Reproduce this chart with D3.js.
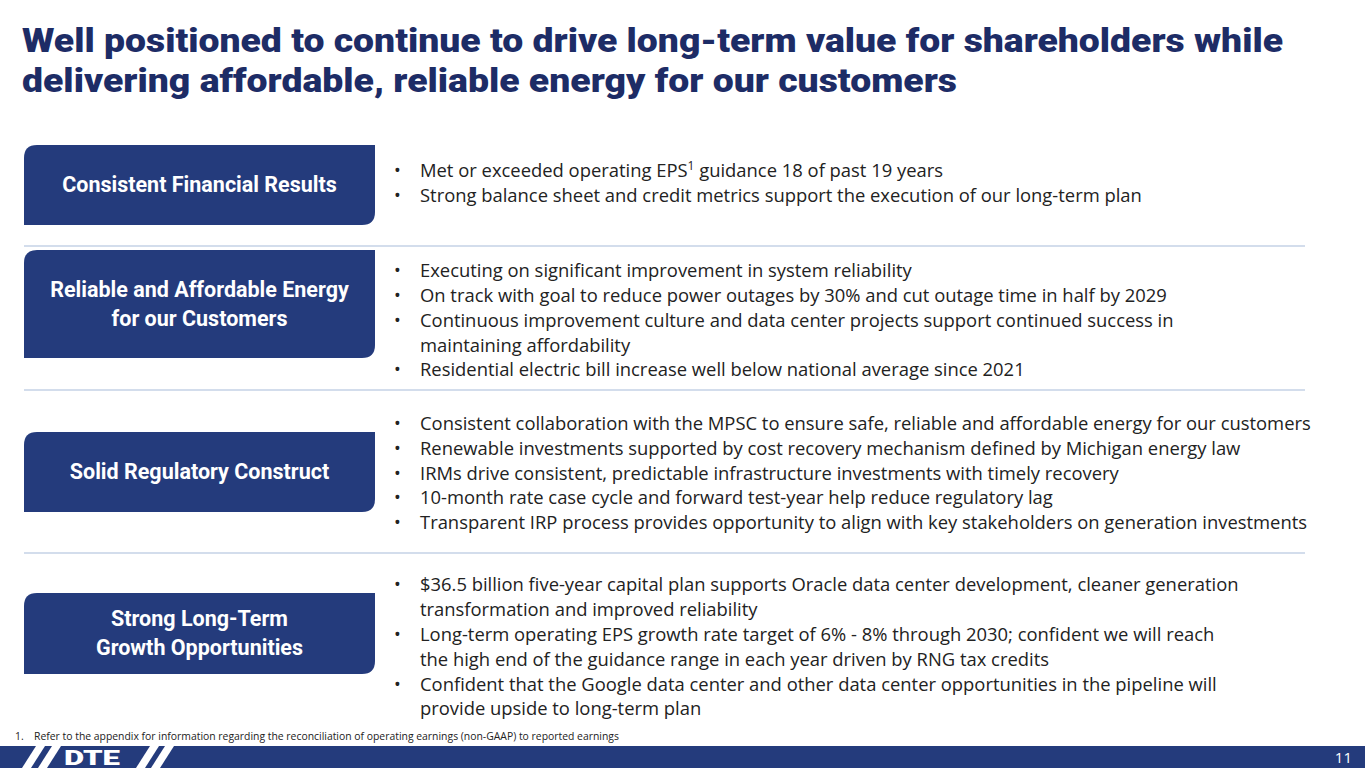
<!DOCTYPE html>
<html><head><meta charset="utf-8">
<script src="https://cdn.jsdelivr.net/npm/d3@7"></script>
<style>body{margin:0;background:#fff}svg{display:block}</style>
</head><body>
<svg id="canvas" width="1365" height="768"></svg>
<script>
// contenido de la diapositiva
let titleLines = ['Well positioned to continue to drive long-term value for shareholders while',
                  'delivering affordable, reliable energy for our customers'];
let labels = [['Consistent Financial Results'], ['Reliable and Affordable Energy', 'for our Customers'],
              ['Solid Regulatory Construct'], ['Strong Long-Term', 'Growth Opportunities']];
let boxTops = [145, 250, 432, 593];
let boxHeights = [80, 108, 80, 81];
let dividers = [246, 390, 553];
// cada linea: [texto, es bullet, y]
let bullets = [
  [['Met or exceeded operating EPS|1| guidance 18 of past 19 years', 1, 171],
   ['Strong balance sheet and credit metrics support the execution of our long-term plan', 1, 196]],
  [['Executing on significant improvement in system reliability', 1, 271],
   ['On track with goal to reduce power outages by 30% and cut outage time in half by 2029', 1, 296],
   ['Continuous improvement culture and data center projects support continued success in', 1, 321],
   ['maintaining affordability', 0, 346],
   ['Residential electric bill increase well below national average since 2021', 1, 370]],
  [['Consistent collaboration with the MPSC to ensure safe, reliable and affordable energy for our customers', 1, 424],
   ['Renewable investments supported by cost recovery mechanism defined by Michigan energy law', 1, 449],
   ['IRMs drive consistent, predictable infrastructure investments with timely recovery', 1, 474],
   ['10-month rate case cycle and forward test-year help reduce regulatory lag', 1, 498],
   ['Transparent IRP process provides opportunity to align with key stakeholders on generation investments', 1, 523]],
  [['$36.5 billion five-year capital plan supports Oracle data center development, cleaner generation', 1, 585],
   ['transformation and improved reliability', 0, 610],
   ['Long-term operating EPS growth rate target of 6% - 8% through 2030; confident we will reach', 1, 635],
   ['the high end of the guidance range in each year driven by RNG tax credits', 0, 660],
   ['Confident that the Google data center and other data center opportunities in the pipeline will', 1, 685],
   ['provide upside to long-term plan', 0, 709]]
];
let footnoteNum = '1.';
let footnote = 'Refer to the appendix for information regarding the reconciliation of operating earnings (non-GAAP) to reported earnings';
let pageNum = '11';

let navy = '#243b7c';
let canvas = d3.select('#canvas');

// titulo
canvas.selectAll('text.title').data(titleLines).enter().append('text')
  .attr('class', 'title').attr('x', 22).attr('y', (d, i) => 52 + i * 40)
  .attr('font-family', 'Roboto').attr('font-weight', 900).attr('font-size', 33)
  .attr('fill', '#1d2c66').attr('textLength', (d, i) => i ? 935 : 1261)
  .attr('lengthAdjust', 'spacingAndGlyphs').text(d => d);

// lineas divisorias
canvas.selectAll('line.div').data(dividers).enter().append('line')
  .attr('x1', 24).attr('x2', 1305).attr('y1', d => d).attr('y2', d => d)
  .attr('stroke', '#a8bbda').attr('stroke-width', 1.2);

// cajas con esquinas redondeadas (arriba-izq y abajo-der)
let boxPath = (y, h) => {
  let x0 = 24, x1 = 375, r = 13;
  return `M${x0},${y + r} Q${x0},${y} ${x0 + r},${y} L${x1},${y} L${x1},${y + h - r} Q${x1},${y + h} ${x1 - r},${y + h} L${x0},${y + h} Z`;
};
let boxes = canvas.selectAll('g.box').data(labels).enter().append('g').attr('class', 'box');
boxes.append('path').attr('d', (d, i) => boxPath(boxTops[i], boxHeights[i])).attr('fill', navy);
boxes.each(function (d, i) {
  let cy = boxTops[i] + boxHeights[i] / 2;
  d3.select(this).selectAll('text').data(d).enter().append('text')
    .attr('x', 199.5).attr('y', (t, j) => cy + 7 + (j - (d.length - 1) / 2) * 29)
    .attr('text-anchor', 'middle').attr('fill', '#fff')
    .attr('font-family', 'Roboto').attr('font-weight', 700).attr('font-size', 21.5)
    .text(t => t);
});

// bullets
let allLines = bullets.flat();
let lines = canvas.selectAll('g.line').data(allLines).enter().append('g').attr('class', 'line');
lines.filter(d => d[1]).append('text').attr('x', 394).attr('y', d => d[2] + 6)
  .attr('font-family', 'Open Sans').attr('font-size', 18).attr('fill', '#222').text('•');
lines.append('text').attr('x', 420).attr('y', d => d[2] + 6)
  .attr('font-family', 'Open Sans').attr('font-size', 18.4).attr('fill', '#222')
  .each(function (d) {
    let parts = d[0].split('|');
    let t = d3.select(this);
    parts.forEach((p, k) => {
      let s = t.append('tspan').text(p);
      if (k === 1) s.attr('font-size', 12).attr('dy', -7);
      if (k === 2) s.attr('dy', 7);
    });
  });

// nota al pie
canvas.append('text').attr('x', 15).attr('y', 740).attr('font-family', 'Open Sans')
  .attr('font-size', 10.4).attr('fill', '#222').text(footnoteNum);
canvas.append('text').attr('x', 34).attr('y', 740).attr('font-family', 'Open Sans')
  .attr('font-size', 10.4).attr('fill', '#222').text(footnote);

// barra inferior
canvas.append('rect').attr('x', 0).attr('y', 746).attr('width', 1365).attr('height', 22).attr('fill', navy);
let slash = x => `M${x},768 L${x + 9},768 L${x + 23},746 L${x + 14},746 Z`;
[22, 38, 136, 151].forEach(x =>
  canvas.append('path').attr('d', slash(x)).attr('fill', '#fff'));
canvas.append('text').attr('x', 92).attr('y', 765).attr('text-anchor', 'middle')
  .attr('font-family', 'Roboto').attr('font-weight', 900).attr('font-size', 21)
  .attr('fill', '#fff').attr('textLength', 56).attr('lengthAdjust', 'spacingAndGlyphs').text('DTE');
canvas.append('text').attr('x', 1352).attr('y', 763).attr('text-anchor', 'end')
  .attr('font-family', 'Open Sans').attr('font-size', 15).attr('fill', '#fff').text(pageNum);
</script>
</body></html>
